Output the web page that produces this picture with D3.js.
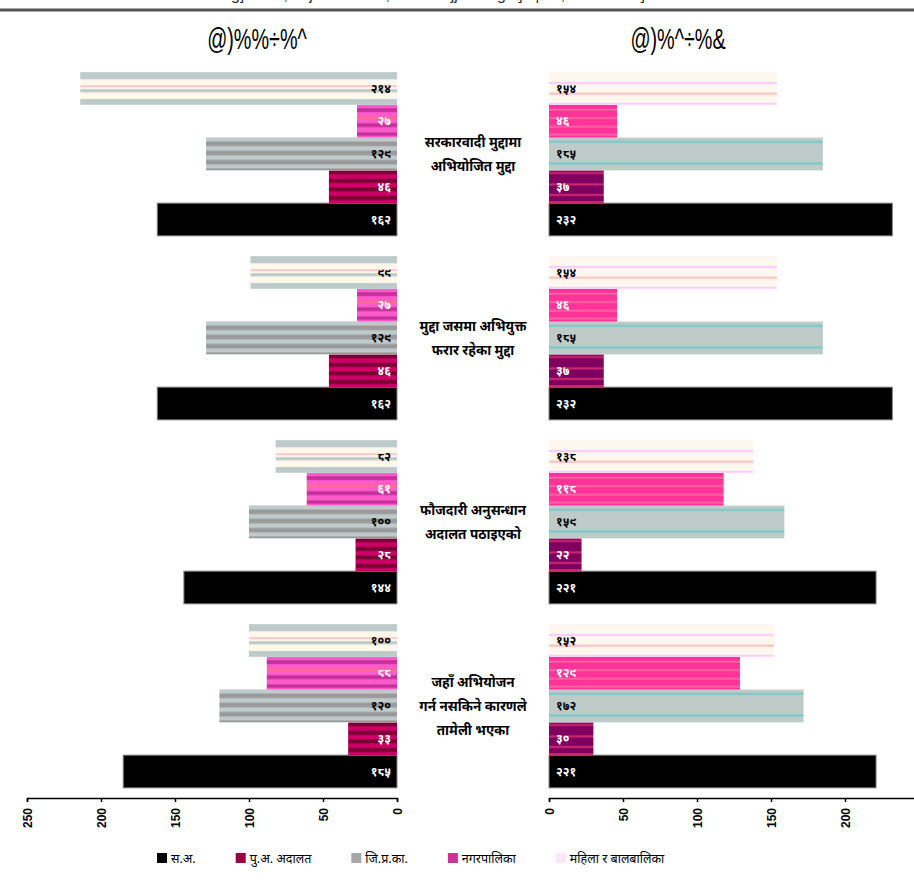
<!DOCTYPE html>
<html lang="ne">
	<head>
		<meta charset="utf-8">
		<title>butterfly bars</title>
		<script type="text/javascript" src="https://d3js.org/d3.v7.min.js"></script>
		<style type="text/css">
            body{margin:0;background:#fff;font-family:"Noto Sans",sans-serif;}
            #chart1{width:914px;height:884px;overflow:hidden;}
		</style>
	</head>
	<body>
    <div id="chart1"></div>
		<script type="text/javascript">
            // years shown as panel titles (left, right)
            var years = ["@)%%÷%^", "@)%^÷%&"]
            // category labels, lines split by |
            var categories = [
                "सरकारवादी मुद्दामा|अभियोजित मुद्दा",
                "मुद्दा जसमा अभियुक्त|फरार रहेका मुद्दा",
                "फौजदारी अनुसन्धान|अदालत पठाइएको",
                "जहाँ अभियोजन|गर्न नसकिने कारणले|तामेली भएका"
            ]
            var seriesNames = ["स.अ.", "पु.अ. अदालत", "जि.प्र.का.", "नगरपालिका", "महिला र बालबालिका"]
            // values per category, series order 1..5
            var values5556 = [
                [162, 46, 129, 27, 214],
                [162, 46, 129, 27, 99],
                [144, 28, 100, 61, 82],
                [185, 33, 120, 88, 100]
            ]
            var values5657 = [
                [232, 37, 185, 46, 154],
                [232, 37, 185, 46, 154],
                [221, 22, 159, 118, 138],
                [221, 30, 172, 129, 152]
            ]
            var tickValues = [0, 50, 100, 150, 200, 250]
            var legendColors = ["#000000", "#990040", "#a6a6a6", "#cc3399", "#ffe6ff"]

            var w = 914
            var h = 884
            var svg = d3.select("#chart1").append("svg").attr("width", w).attr("height", h)

            // stripe fills, [from, to, colour] as fraction of bar height
            var stripes = {
                left: [
                    [[0, 1, "#000"]],
                    [[0, 1, "#cc0066"], [0, .12, "#7a0033"], [.26, .38, "#7a0033"], [.52, .64, "#7a0033"], [.78, .9, "#7a0033"]],
                    [[0, 1, "#bfcbca"], [.12, .26, "#999"], [.4, .54, "#999"], [.68, .82, "#999"], [.94, 1, "#999"]],
                    [[0, 1, "#ff5ccb"], [.1, .22, "#c4309a"], [.36, .44, "#ff6b8e"], [.56, .68, "#c4309a"], [.84, .94, "#c4309a"]],
                    [[0, 1, "#fff8ec"], [0, .22, "#bfcbca"], [.4, .46, "#ffc8c8"], [.52, .62, "#bfcbca"], [.82, 1, "#bfcbca"]]
                ],
                right: [
                    [[0, 1, "#000"]],
                    [[0, 1, "#800060"], [.05, .11, "#d02a6e"], [.4, .46, "#d02a6e"], [.72, .78, "#d02a6e"], [.94, 1, "#d02a6e"]],
                    [[0, 1, "#bfcbc8"], [.1, .16, "#6fcaca"], [.76, .82, "#6fcaca"]],
                    [[0, 1, "#ff3399"], [.12, .17, "#ff6f9f"], [.38, .43, "#ff6f9f"], [.64, .69, "#ff6f9f"], [.88, .93, "#ff6f9f"]],
                    [[0, 1, "#fff8ee"], [.3, .37, "#ffccff"], [.62, .7, "#ffc8c8"], [.94, 1, "#ffccff"]]
                ]
            }
            var defs = svg.append("defs")
            Object.keys(stripes).forEach(function(side){
                stripes[side].forEach(function(list, i){
                    var p = defs.append("pattern")
                        .attr("id", side + i)
                        .attr("patternUnits", "objectBoundingBox")
                        .attr("patternContentUnits", "objectBoundingBox")
                        .attr("width", 1).attr("height", 1)
                    list.forEach(function(s){
                        p.append("rect").attr("x", 0).attr("width", 1)
                            .attr("y", s[0]).attr("height", s[1] - s[0]).attr("fill", s[2])
                    })
                })
            })

            // last line of the page's heading, cut by the top edge
            svg.append("text").attr("x", 457).attr("y", 0).attr("text-anchor", "middle")
                .style("font-family", "Liberation Sans").style("font-size", "16px")
                .attr("fill", "#333")
                .text("g]kfndf ;/sf/jfbL d'2fx? ;DaGwL ljj/0f / ltgsf] k|ult ;dLIff ul/Psf] tflnsf")
            svg.append("line").attr("x1", 0).attr("x2", w).attr("y1", 10).attr("y2", 10)
                .attr("stroke", "#555").attr("stroke-width", 3)

            var yBand = d3.scaleBand().domain(d3.range(categories.length)).range([62, 798])
                .paddingInner(0.11).paddingOuter(0.055)
            var ySub = d3.scaleBand().domain([4, 3, 2, 1, 0]).range([0, yBand.bandwidth()])
            var xLeft = d3.scaleLinear().domain([0, 250]).range([397, 27])
            var xRight = d3.scaleLinear().domain([0, 250]).range([549, 919])

            var nepDigits = "०१२३४५६७८९"
            function nep(v){
                return String(v).split("").map(function(c){ return nepDigits[+c] }).join("")
            }

            function drawPanel(values, x, side){
                var g = svg.append("g")
                values.forEach(function(row, c){
                    var rows = row.map(function(v, s){ return {v: v, s: s, c: c} })
                    g.selectAll(".bar" + c)
                        .data(rows)
                        .enter()
                        .append("rect")
                        .attr("x", function(d){ return Math.min(x(0), x(d.v)) })
                        .attr("y", function(d){ return yBand(d.c) + ySub(d.s) })
                        .attr("width", function(d){ return Math.abs(x(d.v) - x(0)) })
                        .attr("height", ySub.bandwidth())
                        .attr("fill", function(d){ return "url(#" + side + d.s + ")" })
                        .attr("stroke", function(d){ return d.s == 0 ? "#888" : "none" })
                        .attr("stroke-width", 1)
                    g.selectAll(".lab" + c)
                        .data(rows)
                        .enter()
                        .append("text")
                        .attr("x", side == "left" ? x(0) - 6 : x(0) + 7)
                        .attr("y", function(d){ return yBand(d.c) + ySub(d.s) + ySub.bandwidth() / 2 })
                        .attr("dy", "0.35em")
                        .attr("text-anchor", side == "left" ? "end" : "start")
                        .style("font-size", "12px")
                        .style("font-weight", "bold")
                        .attr("fill", function(d){ return (d.s == 2 || d.s == 4) ? "#000" : "#fff" })
                        .text(function(d){ return nep(d.v) })
                })
                var axis = svg.append("g")
                    .attr("transform", "translate(0,798)")
                    .call(d3.axisBottom(x).tickValues(tickValues).tickSize(4).tickFormat(d3.format("d")))
                axis.select(".domain").attr("stroke", "#000").attr("stroke-width", 1.5)
                axis.selectAll(".tick line").attr("stroke", "#000").attr("stroke-width", 1.5)
                axis.selectAll(".tick text")
                    .attr("transform", "rotate(-90)")
                    .attr("x", -10).attr("y", 0).attr("dy", "0.35em")
                    .attr("text-anchor", "end")
                    .style("font-family", "Liberation Sans")
                    .style("font-size", "12px")
                    .style("font-weight", "bold")
                    .attr("fill", "#000")
            }
            drawPanel(values5556, xLeft, "left")
            drawPanel(values5657, xRight, "right")

            // panel titles, condensed
            svg.selectAll(".year")
                .data(years)
                .enter()
                .append("text")
                .attr("transform", function(d, i){ return "translate(" + (i == 0 ? 257 : 678) + ",49) scale(0.66,1)" })
                .attr("text-anchor", "middle")
                .style("font-family", "Liberation Sans")
                .style("font-size", "30px")
                .text(function(d){ return d })

            // category labels between panels
            categories.forEach(function(cat, c){
                var lines = cat.split("|")
                var mid = yBand(c) + yBand.bandwidth() / 2
                svg.append("text")
                    .attr("x", 473)
                    .attr("text-anchor", "middle")
                    .style("font-size", "13.5px")
                    .style("font-weight", "bold")
                    .selectAll("tspan")
                    .data(lines)
                    .enter()
                    .append("tspan")
                    .attr("x", 473)
                    .attr("y", function(d, i){ return mid + (i - (lines.length - 1) / 2) * 24 })
                    .attr("dy", "0.35em")
                    .text(function(d){ return d })
            })

            // legend
            var lx = 157
            seriesNames.forEach(function(name, i){
                svg.append("rect").attr("x", lx).attr("y", 853).attr("width", 10).attr("height", 10)
                    .attr("fill", legendColors[i])
                var t = svg.append("text").attr("x", lx + 14).attr("y", 863)
                    .style("font-size", "12.5px").text(name)
                lx += 14 + t.node().getComputedTextLength() + 40
            })
        </script>
	</body>
</html>
